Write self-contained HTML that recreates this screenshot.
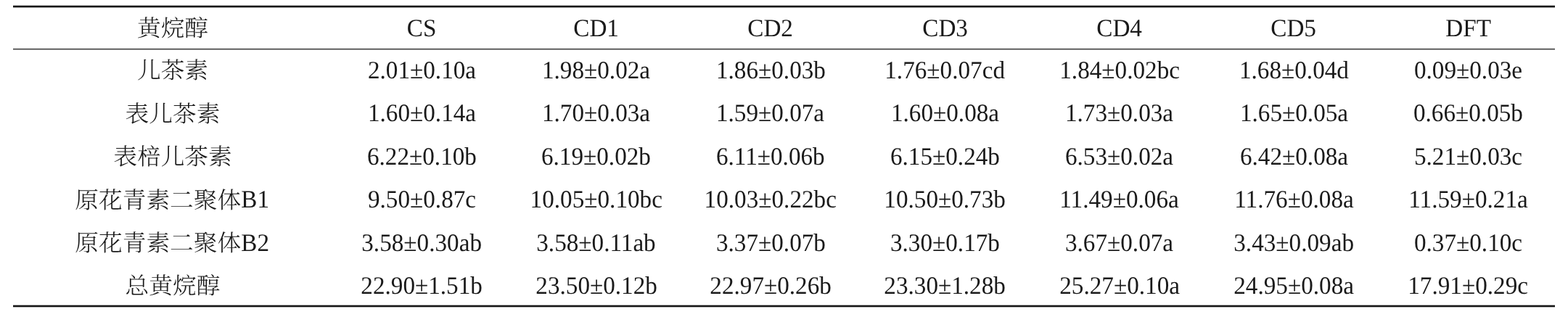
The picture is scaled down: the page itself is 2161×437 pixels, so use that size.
<!DOCTYPE html>
<html lang="zh-CN"><head><meta charset="utf-8"><title>黄烷醇</title><style>
html,body{margin:0;padding:0;background:#fff;text-rendering:geometricPrecision;}
body{width:2161px;height:437px;position:relative;overflow:hidden;}
table{position:absolute;left:18.0px;top:18.80px;border-collapse:collapse;border-spacing:0;table-layout:fixed;width:2125.57px;
 font-family:"Liberation Serif","Noto Serif CJK SC",serif;font-size:34.5px;color:#1a1a1a;}
td,th{padding:0;margin:0;border:0;text-align:center;vertical-align:top;white-space:nowrap;line-height:40px;font-weight:normal;overflow:visible;}
td:first-child,th:first-child{padding-right:4.12px;}
.t{display:inline-block;transform:scaleX(0.962);}
.z{line-height:0;position:relative;top:1.5px;display:inline-block;transform:scaleY(0.94);font-family:"Liberation Serif","Noto Serif CJK SC",serif;font-weight:300;font-size:34.0px;}
.r{position:absolute;left:18px;width:2125px;height:1px;}
</style></head><body>

<table>
<colgroup><col style="width:443.12px"><col style="width:240.35px"><col style="width:240.35px"><col style="width:240.35px"><col style="width:240.35px"><col style="width:240.35px"><col style="width:240.35px"><col style="width:240.35px"></colgroup>
<thead><tr style="height:58.20px"><th><span class="t"><span class="z">黄烷醇</span></span></th><th><span class="t">CS</span></th><th><span class="t">CD1</span></th><th><span class="t">CD2</span></th><th><span class="t">CD3</span></th><th><span class="t">CD4</span></th><th><span class="t">CD5</span></th><th><span class="t">DFT</span></th></tr></thead>
<tbody>
<tr style="height:59.40px"><td><span class="t"><span class="z">儿茶素</span></span></td><td><span class="t">2.01±0.10a</span></td><td><span class="t">1.98±0.02a</span></td><td><span class="t">1.86±0.03b</span></td><td><span class="t">1.76±0.07cd</span></td><td><span class="t">1.84±0.02bc</span></td><td><span class="t">1.68±0.04d</span></td><td><span class="t">0.09±0.03e</span></td></tr>
<tr style="height:59.40px"><td><span class="t"><span class="z">表儿茶素</span></span></td><td><span class="t">1.60±0.14a</span></td><td><span class="t">1.70±0.03a</span></td><td><span class="t">1.59±0.07a</span></td><td><span class="t">1.60±0.08a</span></td><td><span class="t">1.73±0.03a</span></td><td><span class="t">1.65±0.05a</span></td><td><span class="t">0.66±0.05b</span></td></tr>
<tr style="height:59.40px"><td><span class="t"><span class="z">表棓儿茶素</span></span></td><td><span class="t">6.22±0.10b</span></td><td><span class="t">6.19±0.02b</span></td><td><span class="t">6.11±0.06b</span></td><td><span class="t">6.15±0.24b</span></td><td><span class="t">6.53±0.02a</span></td><td><span class="t">6.42±0.08a</span></td><td><span class="t">5.21±0.03c</span></td></tr>
<tr style="height:59.40px"><td><span class="t"><span class="z">原花青素二聚体</span>B1</span></td><td><span class="t">9.50±0.87c</span></td><td><span class="t">10.05±0.10bc</span></td><td><span class="t">10.03±0.22bc</span></td><td><span class="t">10.50±0.73b</span></td><td><span class="t">11.49±0.06a</span></td><td><span class="t">11.76±0.08a</span></td><td><span class="t">11.59±0.21a</span></td></tr>
<tr style="height:59.40px"><td><span class="t"><span class="z">原花青素二聚体</span>B2</span></td><td><span class="t">3.58±0.30ab</span></td><td><span class="t">3.58±0.11ab</span></td><td><span class="t">3.37±0.07b</span></td><td><span class="t">3.30±0.17b</span></td><td><span class="t">3.67±0.07a</span></td><td><span class="t">3.43±0.09ab</span></td><td><span class="t">0.37±0.10c</span></td></tr>
<tr style="height:59.40px"><td><span class="t"><span class="z">总黄烷醇</span></span></td><td><span class="t">22.90±1.51b</span></td><td><span class="t">23.50±0.12b</span></td><td><span class="t">22.97±0.26b</span></td><td><span class="t">23.30±1.28b</span></td><td><span class="t">25.27±0.10a</span></td><td><span class="t">24.95±0.08a</span></td><td><span class="t">17.91±0.29c</span></td></tr>
</tbody></table>
<div class="r" style="top:7px;background:rgb(170,170,170)"></div>
<div class="r" style="top:8px;background:rgb(22,22,22)"></div>
<div class="r" style="top:9px;background:rgb(22,22,22)"></div>
<div class="r" style="top:10px;background:rgb(175,175,175)"></div>
<div class="r" style="top:66px;background:rgb(222,222,222)"></div>
<div class="r" style="top:67px;background:rgb(78,78,78)"></div>
<div class="r" style="top:68px;background:rgb(148,148,148)"></div>
<div class="r" style="top:420px;background:rgb(175,175,175)"></div>
<div class="r" style="top:421px;background:rgb(22,22,22)"></div>
<div class="r" style="top:422px;background:rgb(22,22,22)"></div>
<div class="r" style="top:423px;background:rgb(180,180,180)"></div>
</body></html>
